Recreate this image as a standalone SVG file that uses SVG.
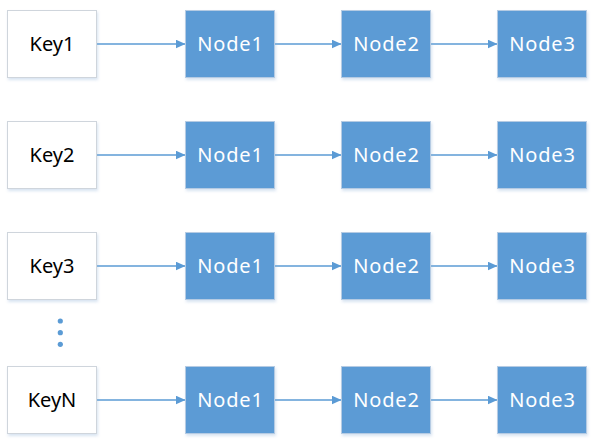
<svg xmlns="http://www.w3.org/2000/svg" width="593" height="440" viewBox="0 0 593 440">
<style>
.key rect{fill:#ffffff;stroke:#cfd5dc;stroke-width:1}
.node rect{fill:#5b9bd5;stroke:#b5cbe3;stroke-width:1}
text{font-family:"Noto Sans","Liberation Sans",sans-serif;font-size:20px;text-anchor:middle}
.key text{fill:#000000}
.node text{fill:#ffffff;letter-spacing:0.8px}
.conn line{stroke:#5b9bd5;stroke-width:1.5;fill:none}
.dot{fill:#5b9bd5}
</style>
<defs>
<filter id="sh" x="-10%" y="-10%" width="130%" height="130%">
<feDropShadow dx="1" dy="2" stdDeviation="1.5" flood-color="#8fb0d6" flood-opacity="0.35"/>
</filter>
<marker id="arr" markerUnits="userSpaceOnUse" markerWidth="10" markerHeight="9" refX="10" refY="4.5" orient="auto">
<path d="M0,0 L10,4.5 L0,9 z" fill="#5b9bd5"/>
</marker>
</defs>
<g id="connectors" class="conn">
<line x1="96.5" y1="44" x2="185.5" y2="44" marker-end="url(#arr)"/>
<line x1="274.5" y1="44" x2="341.5" y2="44" marker-end="url(#arr)"/>
<line x1="430.5" y1="44" x2="497.5" y2="44" marker-end="url(#arr)"/>
<line x1="96.5" y1="155" x2="185.5" y2="155" marker-end="url(#arr)"/>
<line x1="274.5" y1="155" x2="341.5" y2="155" marker-end="url(#arr)"/>
<line x1="430.5" y1="155" x2="497.5" y2="155" marker-end="url(#arr)"/>
<line x1="96.5" y1="266" x2="185.5" y2="266" marker-end="url(#arr)"/>
<line x1="274.5" y1="266" x2="341.5" y2="266" marker-end="url(#arr)"/>
<line x1="430.5" y1="266" x2="497.5" y2="266" marker-end="url(#arr)"/>
<line x1="96.5" y1="400" x2="185.5" y2="400" marker-end="url(#arr)"/>
<line x1="274.5" y1="400" x2="341.5" y2="400" marker-end="url(#arr)"/>
<line x1="430.5" y1="400" x2="497.5" y2="400" marker-end="url(#arr)"/>
</g>
<g id="key1" class="key"><rect x="7.5" y="10.5" width="89" height="67" filter="url(#sh)"/><text x="52" y="51">Key1</text></g>
<g id="r1n1" class="node"><rect x="185.5" y="10.5" width="89" height="67" filter="url(#sh)"/><text x="230.5" y="51">Node1</text></g>
<g id="r1n2" class="node"><rect x="341.5" y="10.5" width="89" height="67" filter="url(#sh)"/><text x="386.5" y="51">Node2</text></g>
<g id="r1n3" class="node"><rect x="497.5" y="10.5" width="89" height="67" filter="url(#sh)"/><text x="542.5" y="51">Node3</text></g>
<g id="key2" class="key"><rect x="7.5" y="121.5" width="89" height="67" filter="url(#sh)"/><text x="52" y="162">Key2</text></g>
<g id="r2n1" class="node"><rect x="185.5" y="121.5" width="89" height="67" filter="url(#sh)"/><text x="230.5" y="162">Node1</text></g>
<g id="r2n2" class="node"><rect x="341.5" y="121.5" width="89" height="67" filter="url(#sh)"/><text x="386.5" y="162">Node2</text></g>
<g id="r2n3" class="node"><rect x="497.5" y="121.5" width="89" height="67" filter="url(#sh)"/><text x="542.5" y="162">Node3</text></g>
<g id="key3" class="key"><rect x="7.5" y="232.5" width="89" height="67" filter="url(#sh)"/><text x="52" y="273">Key3</text></g>
<g id="r3n1" class="node"><rect x="185.5" y="232.5" width="89" height="67" filter="url(#sh)"/><text x="230.5" y="273">Node1</text></g>
<g id="r3n2" class="node"><rect x="341.5" y="232.5" width="89" height="67" filter="url(#sh)"/><text x="386.5" y="273">Node2</text></g>
<g id="r3n3" class="node"><rect x="497.5" y="232.5" width="89" height="67" filter="url(#sh)"/><text x="542.5" y="273">Node3</text></g>
<g id="ellipsis">
<circle class="dot" cx="60.3" cy="321" r="2.6"/>
<circle class="dot" cx="60.3" cy="332.7" r="2.6"/>
<circle class="dot" cx="60.3" cy="344.3" r="2.6"/>
</g>
<g id="keyN" class="key"><rect x="7.5" y="366.5" width="89" height="67" filter="url(#sh)"/><text x="52" y="407">KeyN</text></g>
<g id="rNn1" class="node"><rect x="185.5" y="366.5" width="89" height="67" filter="url(#sh)"/><text x="230.5" y="407">Node1</text></g>
<g id="rNn2" class="node"><rect x="341.5" y="366.5" width="89" height="67" filter="url(#sh)"/><text x="386.5" y="407">Node2</text></g>
<g id="rNn3" class="node"><rect x="497.5" y="366.5" width="89" height="67" filter="url(#sh)"/><text x="542.5" y="407">Node3</text></g>
</svg>
